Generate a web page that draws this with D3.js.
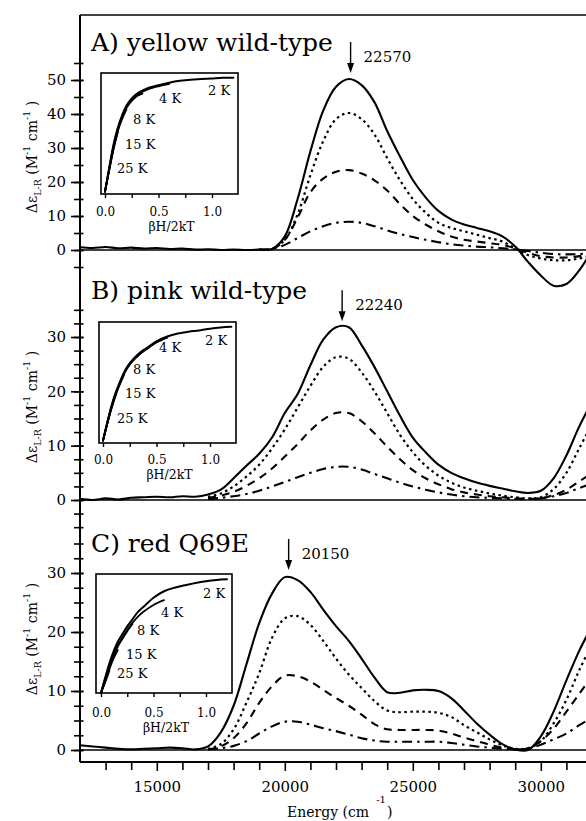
<!DOCTYPE html>
<html><head><meta charset="utf-8">
<script src="https://cdn.jsdelivr.net/npm/d3@7"></script>
<style>
html,body{margin:0;padding:0;background:#fff;}
svg{display:block;}
svg text{font-family:"DejaVu Serif","Noto Serif","Liberation Serif",serif;}
</style></head><body>
<svg id="chart" width="586" height="821"></svg>
<script>
// ---------- DATA ----------
const energy = [12000,12500,13000,13500,14000,14500,15000,15500,16000,16500,17000,17500,18000,18500,19000,19500,20000,20500,21000,21500,22000,22500,23000,23500,24000,24500,25000,25500,26000,26500,27000,27500,28000,28500,29000,29500,30000,30500,31000,31500,32000];

// Panel A: yellow wild-type
const aSolid   = [0.8,0.6,0.9,0.5,0.7,0.4,0.6,0.3,0.4,0.1,0.2,0.0,0.1,0.0,0.1,0.3,4,15,29,41,48,50.3,48.5,43.5,35,27.5,20.6,15.5,11.5,9,7.5,6.5,5.5,4,1,-3.5,-7.5,-10.5,-10,-6,0];
const aDotted  = [null,null,null,null,null,null,null,null,null,null,null,null,null,null,0.1,0.3,3,10.5,22,32,38.5,40.3,38.5,34,27,20.5,15,11,8,6.5,5.5,4.5,3.5,2.5,0.5,-1.5,-2.5,-3,-3,-2.5,-1.5];
const aDashed  = [null,null,null,null,null,null,null,null,null,null,null,null,null,null,0.1,0.3,3,9.5,17,21,23,23.5,22.5,20.5,17.5,13.5,10,7.5,5.5,4,3,2.5,2,1.5,0.5,-0.8,-1.8,-2.2,-2.2,-1.8,-1];
const aDashDot = [null,null,null,null,null,null,null,null,null,null,null,null,null,null,0.1,0.3,1.5,3.5,5.5,7,8,8.3,8,7,5.8,4.7,3.8,3,2.3,1.7,1.3,1,0.8,0.5,0.2,-0.3,-0.8,-1.2,-1.3,-1.2,-0.8];

// Panel B: pink wild-type
const bSolid   = [0.2,0.0,0.3,0.1,0.4,0.5,0.6,0.5,0.7,0.6,1.0,1.9,4,6.3,8.5,11.5,16,19.5,24.8,29.5,31.8,31.8,28.5,24.5,20,15.5,11.5,8.8,6.5,5,4,3.2,2.6,2.1,1.6,1.3,1.7,4,8.2,13.5,18];
const bDotted  = [null,null,null,null,null,null,null,null,null,null,0.6,1.2,2.5,4.3,6.5,9.5,13,17,21,24.5,26.3,26,23.5,20,16,12,8.8,6.3,4.5,3.2,2.3,1.7,1.2,0.8,0.5,0.3,0.5,2,5,9.5,14];
const bDashed  = [null,null,null,null,null,null,null,null,null,null,0.4,0.8,1.5,2.6,4,5.8,8,10.3,12.8,14.8,16,16,14.5,12.3,9.8,7.5,5.5,4,2.9,2,1.4,1,0.7,0.5,0.3,0.2,0.3,0.9,1.9,3.4,5];
const bDashDot = [null,null,null,null,null,null,null,null,null,null,0.2,0.4,0.7,1.1,1.7,2.5,3.3,4.2,5,5.7,6.1,6.1,5.6,4.8,4,3.2,2.5,1.9,1.4,1,0.7,0.5,0.4,0.3,0.2,0.2,0.3,0.7,1.3,2.2,3];

// Panel C: red Q69E
const cSolid   = [0.8,0.6,0.4,0.2,0.1,0.2,0.3,0.4,0.3,0.1,0.6,3,7.5,14.5,21.5,26.5,29.3,28.8,26.8,23.8,21,18.5,15.5,12.3,9.8,9.7,10.1,10.2,10,8.8,6.7,4.5,2.6,1.0,0.1,0,2.3,6.5,11.8,16.8,21];
const cDotted  = [null,null,null,null,null,null,null,null,null,null,0.2,1,3.5,8,13,19,22.3,22.7,21.2,18.5,15.5,12.8,10.5,8.3,6.7,6.4,6.5,6.5,6.3,5.6,4.2,3.0,1.8,0.8,0.2,0.3,1.5,4.5,8.5,13.5,18];
const cDashed  = [null,null,null,null,null,null,null,null,null,null,0.1,0.6,2,4.5,8,10.8,12.6,12.5,11.6,10.2,8.8,7.5,6,4.4,3.5,3.4,3.4,3.4,3.3,2.8,2.1,1.5,0.9,0.4,0.1,0.3,1.5,3.6,6.5,9.5,12.5];
const cDashDot = [null,null,null,null,null,null,null,null,null,null,0.1,0.3,0.7,1.5,2.8,4,4.8,4.8,4.3,3.7,3.2,2.6,2,1.6,1.4,1.4,1.4,1.4,1.4,1.2,0.9,0.6,0.4,0.2,0.1,0.2,0.9,1.8,2.8,4.2,5.5];

// Insets: normalized magnetization vs beta H / 2kT
const insetGrid = [0,0.04,0.08,0.12,0.16,0.2,0.25,0.3,0.35,0.4,0.5,0.6,0.7,0.8,0.9,1.0,1.1,1.2];
const insetTemps = ["2 K","4 K","8 K","15 K","25 K"];
const aInset2K  = [0.02,0.22,0.41,0.55,0.65,0.73,0.79,0.83,0.855,0.875,0.90,0.92,0.935,0.945,0.95,0.955,0.96,0.96];
const aInset4K  = [0.02,0.21,0.40,0.54,0.64,0.72,0.78,0.82,0.845,0.865,0.89,0.91];
const aInset8K  = [0.02,0.21,0.39,0.53,0.63,0.71,0.77,0.81,0.83];
const aInset15K = [0.02,0.20,0.38,0.52,0.62,0.70];
const aInset25K = [0.02,0.20,0.37,0.51];
const bInset2K  = [0.02,0.17,0.31,0.42,0.51,0.59,0.66,0.71,0.75,0.78,0.84,0.88,0.905,0.92,0.93,0.945,0.955,0.96];
const bInset4K  = [0.02,0.17,0.30,0.41,0.50,0.58,0.65,0.70,0.74,0.77,0.83,0.87];
const bInset8K  = [0.02,0.16,0.30,0.41,0.50,0.58,0.65,0.70,0.74];
const bInset15K = [0.02,0.16,0.29,0.40,0.49,0.57];
const bInset25K = [0.02,0.16,0.29,0.40];
const cInset2K  = [0.0,0.13,0.25,0.35,0.43,0.49,0.56,0.62,0.68,0.72,0.80,0.855,0.885,0.905,0.925,0.94,0.95,0.955];
const cInset4K  = [0.0,0.12,0.23,0.33,0.40,0.46,0.53,0.59,0.64,0.68,0.74,0.78];
const cInset8K  = [0.0,0.11,0.22,0.31,0.39,0.45,0.52,0.58];
const cInset15K = [0.0,0.10,0.20,0.29,0.36];
const cInset25K = [0.0,0.09,0.19];

// Axis tick values and labels
const xMajorTicks = [15000,20000,25000,30000];
const xMinorTicks = [13000,14000,16000,17000,18000,19000,21000,22000,23000,24000,26000,27000,28000,29000,31000,32000];
const yTicksA = [0,10,20,30,40,50];
const yTicksB = [0,10,20,30];
const yTicksC = [0,10,20,30];
const insetMajorTicks = [0.0,0.5,1.0];
const insetMinorTicks = [0.25,0.75];
const panelTitles = ["A) yellow wild-type","B) pink wild-type","C) red Q69E"];
const peakEnergies = [22570,22240,20150];
const peakValues = [50.3,31.8,29.5];

// ---------- LAYOUT ----------
const FONT = '"DejaVu Serif","Noto Serif","Liberation Serif",serif';
const svg = d3.select("#chart");
const x = d3.scaleLinear().domain([12000,32000]).range([80,592]);
const axisX = 80, frameTop = 15, axisBottomY = 762, rightEdge = 620;

const panels = [
  {title:panelTitles[0], titleY:51, y:d3.scaleLinear().domain([0,50]).range([250,80]),
   major:yTicksA, minor:d3.range(-5,55.1,5), series:[aSolid,aDotted,aDashed,aDashDot],
   inset:{x:101,y:73,w:137,h:121,x0:4,x1:111,lab:23},
   insetSeries:[aInset2K,aInset4K,aInset8K,aInset15K,aInset25K],
   tempPos:[[107,22],[58,30],[32,51],[24,76],[16,100]], ylabelY:157},
  {title:panelTitles[1], titleY:299, y:d3.scaleLinear().domain([0,30]).range([500,337]),
   major:yTicksB, minor:d3.range(-5,35.1,2.5), series:[bSolid,bDotted,bDashed,bDashDot],
   inset:{x:99,y:322,w:137,h:121,x0:4,x1:111,lab:22},
   insetSeries:[bInset2K,bInset4K,bInset8K,bInset15K,bInset25K],
   tempPos:[[106,23],[60,30],[34,52],[26,76],[18,101]], ylabelY:407},
  {title:panelTitles[2], titleY:552, y:d3.scaleLinear().domain([0,30]).range([750,573]),
   major:yTicksC, minor:d3.range(0,35.1,2.5), series:[cSolid,cDotted,cDashed,cDashDot],
   inset:{x:96,y:574,w:136,h:119,x0:5,x1:110,lab:25},
   insetSeries:[cInset2K,cInset4K,cInset8K,cInset15K,cInset25K],
   tempPos:[[107,24],[65,43],[41,61],[30,85],[21,104]], ylabelY:639}
];

const styles = [
  {dash:null, w:2.1},
  {dash:"2.5,3.5", w:2.2},
  {dash:"8,6", w:2.1},
  {dash:"10,5,2.5,5", w:2.1}
];

svg.append("defs").append("clipPath").attr("id","plotclip")
  .append("rect").attr("x",axisX).attr("y",0).attr("width",rightEdge-axisX).attr("height",axisBottomY);

// frame
svg.append("line").attr("x1",axisX).attr("x2",rightEdge).attr("y1",frameTop).attr("y2",frameTop)
  .attr("stroke","#000").attr("stroke-width",1.5);
svg.append("line").attr("x1",axisX).attr("x2",axisX).attr("y1",frameTop).attr("y2",axisBottomY)
  .attr("stroke","#000").attr("stroke-width",2);
svg.append("line").attr("x1",axisX).attr("x2",rightEdge).attr("y1",axisBottomY).attr("y2",axisBottomY)
  .attr("stroke","#000").attr("stroke-width",1.8);

// bottom axis
const gxMinor = svg.append("g").attr("transform",`translate(0,${axisBottomY})`)
  .call(d3.axisBottom(x).tickValues(xMinorTicks).tickSize(8).tickFormat(""));
const gxMajor = svg.append("g").attr("transform",`translate(0,${axisBottomY})`)
  .call(d3.axisBottom(x).tickValues(xMajorTicks).tickSize(9).tickPadding(10).tickFormat(d3.format("d")));
[gxMinor,gxMajor].forEach(g=>{
  g.attr("font-family",FONT);
  g.select(".domain").remove();
  g.selectAll("line").attr("stroke","#000").attr("stroke-width",1.6);
  g.selectAll("text").attr("font-family",FONT).attr("font-size",15).attr("fill","#000");
});

const xl = svg.append("text").attr("x",287).attr("y",817).attr("font-size",14).attr("fill","#000");
xl.append("tspan").text("Energy (cm");
xl.append("tspan").attr("dx",7).attr("dy",-14).attr("font-size",10).text("-1");
xl.append("tspan").attr("dx",1).attr("dy",14).text(")");

const line = (yS)=> d3.line()
  .defined(d=>d[1]!=null)
  .x(d=>x(d[0])).y(d=>yS(d[1]))
  .curve(d3.curveCatmullRom.alpha(0.5));

panels.forEach((p,pi)=>{
  const y = p.y;
  // y ticks
  const gMinor = svg.append("g").attr("transform",`translate(${axisX},0)`)
    .call(d3.axisLeft(y).tickValues(p.minor).tickSize(6).tickFormat(""));
  const gMajor = svg.append("g").attr("transform",`translate(${axisX},0)`)
    .call(d3.axisLeft(y).tickValues(p.major).tickSize(9).tickPadding(5).tickFormat(d3.format("d")));
  [gMinor,gMajor].forEach(g=>{
    g.attr("font-family",FONT);
    g.select(".domain").remove();
    g.selectAll("line").attr("x1",3.5).attr("stroke","#000").attr("stroke-width",1.6);
    g.selectAll("text").attr("font-family",FONT).attr("font-size",15).attr("fill","#000");
  });

  // zero line
  svg.append("line").attr("x1",axisX).attr("x2",rightEdge).attr("y1",y(0)).attr("y2",y(0))
    .attr("stroke","#000").attr("stroke-width",1.5);

  // title
  svg.append("text").attr("x",91).attr("y",p.titleY).attr("font-size",25).attr("fill","#000").text(p.title);

  // y label
  const yl = svg.append("text").attr("transform",`translate(37,${p.ylabelY}) rotate(-90)`)
    .attr("text-anchor","middle").attr("font-size",14).attr("fill","#000");
  yl.append("tspan").text("\u0394\u03B5");
  yl.append("tspan").attr("dy",4).attr("font-size",9.5).text("L-R");
  yl.append("tspan").attr("dy",-4).text(" (M");
  yl.append("tspan").attr("dy",-7).attr("font-size",9.5).text("-1");
  yl.append("tspan").attr("dy",7).text(" cm");
  yl.append("tspan").attr("dy",-7).attr("font-size",9.5).text("-1");
  yl.append("tspan").attr("dy",7).text(" )");

  // curves
  const gc = svg.append("g").attr("clip-path","url(#plotclip)");
  p.series.forEach((vals,si)=>{
    const pts = energy.map((e,i)=>[e, vals[i]]);
    gc.append("path").datum(pts).attr("d", line(y))
      .attr("fill","none").attr("stroke","#000")
      .attr("stroke-width",styles[si].w)
      .attr("stroke-dasharray",styles[si].dash)
      .attr("stroke-linejoin","round");
  });

  // peak arrow
  const ax = x(peakEnergies[pi]);
  const tip = y(peakValues[pi]) - 6;
  const top = tip - 31;
  svg.append("line").attr("x1",ax).attr("x2",ax).attr("y1",top).attr("y2",tip-8)
    .attr("stroke","#000").attr("stroke-width",1.4);
  svg.append("path").attr("d",`M${ax-3.5},${tip-10}L${ax+3.5},${tip-10}L${ax},${tip}Z`).attr("fill","#000");
  svg.append("text").attr("x",ax+13).attr("y",top+20).attr("font-size",15).attr("fill","#000")
    .text(String(peakEnergies[pi]));

  // inset
  const b = p.inset;
  const ix = d3.scaleLinear().domain([0,1]).range([b.x+b.x0, b.x+b.x1]);
  const iy = d3.scaleLinear().domain([0,1]).range([b.y+b.h, b.y]);
  svg.append("rect").attr("x",b.x).attr("y",b.y).attr("width",b.w).attr("height",b.h)
    .attr("fill","#fff").attr("stroke","#000").attr("stroke-width",1.6);
  const giMinor = svg.append("g").attr("transform",`translate(0,${b.y+b.h})`)
    .call(d3.axisBottom(ix).tickValues(insetMinorTicks).tickSize(4).tickFormat(""));
  const giMajor = svg.append("g").attr("transform",`translate(0,${b.y+b.h})`)
    .call(d3.axisBottom(ix).tickValues(insetMajorTicks).tickSize(4).tickPadding(b.lab-14).tickFormat(d3.format(".1f")));
  [giMinor,giMajor].forEach(g=>{
    g.attr("font-family",FONT);
    g.select(".domain").remove();
    g.selectAll("line").attr("stroke","#000").attr("stroke-width",1.4);
    g.selectAll("text").attr("font-family",FONT).attr("font-size",12).attr("fill","#000");
  });
  svg.append("text").attr("x",b.x+b.w/2+2).attr("y",b.y+b.h+b.lab+14).attr("text-anchor","middle")
    .attr("font-size",12.5).attr("fill","#000").text("\u03B2H/2kT");

  const iline = d3.line().x(d=>ix(d[0])).y(d=>iy(d[1])).curve(d3.curveCatmullRom.alpha(0.5));
  p.insetSeries.forEach((vals,ti)=>{
    const pts = vals.map((v,i)=>[insetGrid[i], v]);
    svg.append("path").datum(pts).attr("d",iline).attr("fill","none")
      .attr("stroke","#000").attr("stroke-width",ti===0?2:1.8).attr("stroke-linecap","round");
  });
  insetTemps.forEach((t,ti)=>{
    svg.append("text").attr("x",b.x+p.tempPos[ti][0]).attr("y",b.y+p.tempPos[ti][1])
      .attr("font-size",13).attr("fill","#000").text(t);
  });
});
</script>
</body></html>
